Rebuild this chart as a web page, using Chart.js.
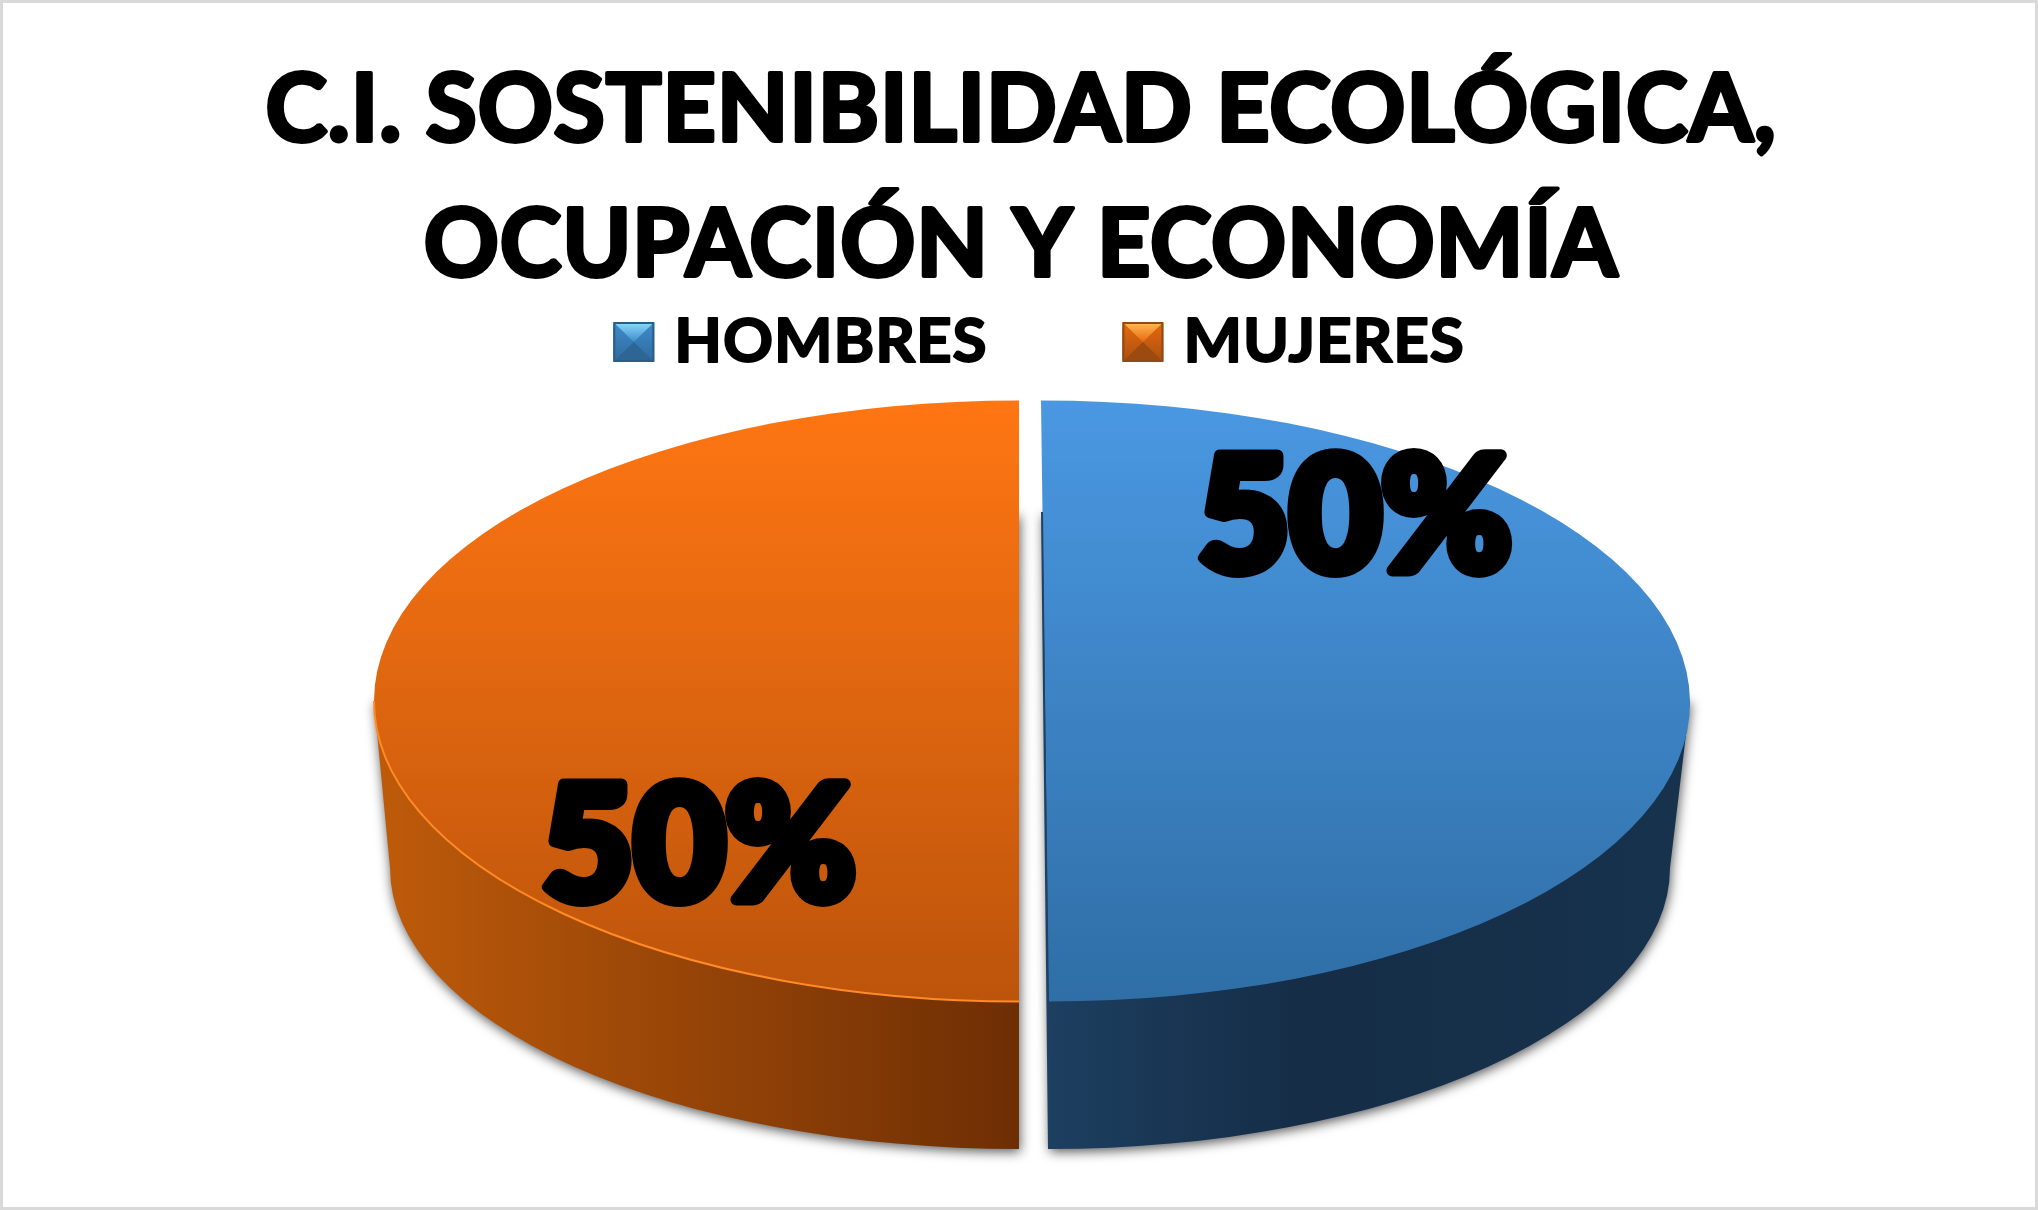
<!DOCTYPE html>
<html>
<head>
<meta charset="utf-8">
<title>C.I. Sostenibilidad Ecológica</title>
<script src="https://cdn.jsdelivr.net/npm/chart.js@4"></script>
<style>
  html, body { margin: 0; padding: 0; background: #fff; }
  canvas { display: block; }
</style>
</head>
<body>
<canvas id="chart" width="2038" height="1210"></canvas>
<script>
const titleLines = ["C.I. SOSTENIBILIDAD ECOLÓGICA,", "OCUPACIÓN Y ECONOMÍA"];
const categories = ["HOMBRES", "MUJERES"];
const values = [50, 50];

const PIE_X = 1030;
const PIE_Y = 701;
const PIE_R = 645;
const SQUASH = 300.5 / 645;
const BLUE_SKEW = 0.0133;
const SLICE_SHIFT = [15, -11];
const TITLE_SIZE = 93;
const TITLE_LINE = 1.45;
const TITLE_TOP = 44;
const LEGEND_FONT_SIZE = 62;
const LEGEND_PADDING = 135;
const LEGEND_MID = 342;

function faceColor(context) {
  const chart = context.chart;
  const stops = context.dataIndex === 0 ? ["#4a98e2", "#2f6ea6"] : ["#ff7613", "#bc540b"];
  if (!chart.chartArea) return stops[0];
  const cy = (chart.chartArea.top + chart.chartArea.bottom) / 2;
  const g = chart.ctx.createLinearGradient(0, cy - PIE_R, 0, cy + PIE_R);
  g.addColorStop(0, stops[0]);
  g.addColorStop(1, stops[1]);
  return g;
}

function drawWall(ctx, edgeTopX, edgeX, bottomRx, sideX, dir, stops) {
  const g = ctx.createLinearGradient(edgeX, 0, edgeX + dir * bottomRx, 0);
  stops.forEach(s => g.addColorStop(s[0], s[1]));
  ctx.save();
  ctx.shadowColor = "rgba(0,0,0,0.65)";
  ctx.shadowBlur = 12;
  ctx.shadowOffsetX = 1;
  ctx.shadowOffsetY = 3;
  ctx.fillStyle = g;
  ctx.beginPath();
  ctx.moveTo(edgeTopX, 512);
  ctx.lineTo(edgeX, 1149);
  if (dir > 0) {
    ctx.ellipse(edgeX, 868, bottomRx, 281, 0, Math.PI / 2, 0, true);
  } else {
    ctx.ellipse(edgeX, 868, bottomRx, 281, 0, Math.PI / 2, Math.PI, false);
  }
  ctx.lineTo(sideX, PIE_Y);
  ctx.closePath();
  ctx.fill();
  ctx.restore();
}

function drawBevelBox(ctx, x, y, w, h, c) {
  const g = ctx.createLinearGradient(0, y, 0, y + h);
  g.addColorStop(0, c[0]);
  g.addColorStop(1, c[1]);
  ctx.fillStyle = g;
  ctx.fillRect(x, y, w, h);
  const top = ctx.createLinearGradient(0, y, 0, y + h / 2);
  top.addColorStop(0, c[2]);
  top.addColorStop(1, c[0]);
  ctx.fillStyle = top;
  ctx.beginPath();
  ctx.moveTo(x + 2, y + 2);
  ctx.lineTo(x + w - 2, y + 2);
  ctx.lineTo(x + w / 2, y + h / 2);
  ctx.closePath();
  ctx.fill();
  ctx.fillStyle = c[3];
  ctx.beginPath();
  ctx.moveTo(x + 2, y + h - 2);
  ctx.lineTo(x + w - 2, y + h - 2);
  ctx.lineTo(x + w / 2, y + h / 2);
  ctx.closePath();
  ctx.fill();
  ctx.strokeStyle = c[4];
  ctx.lineWidth = 2;
  ctx.strokeRect(x + 1, y + 1, w - 2, h - 2);
}

const pie3d = {
  id: "pie3d",
  beforeLayout(chart) {
    // Calibri-like spacing; set before layout so the legend measures it too
    chart.ctx.letterSpacing = "0.9px";
  },
  afterLayout(chart) {
    // padding also counts vertically, so the legend is placed by hand
    const legend = chart.legend;
    legend.left += 18;
    legend.right += 18;
    legend.top = LEGEND_MID - LEGEND_FONT_SIZE / 2 - LEGEND_PADDING;
    legend.bottom = legend.top + legend.height;
    legend.adjustHitBoxes();
  },
  beforeDraw(chart) {
    const ctx = chart.ctx;
    ctx.save();
    ctx.fillStyle = "#ffffff";
    ctx.fillRect(0, 0, chart.width, chart.height);
    ctx.strokeStyle = "#d9d9d9";
    ctx.lineWidth = 3;
    ctx.strokeRect(1.5, 1.5, chart.width - 3, chart.height - 3);
    ctx.restore();
  },
  beforeDatasetsDraw(chart) {
    const ctx = chart.ctx;
    const arcs = chart.getDatasetMeta(0).data;

    drawWall(ctx, 1042, 1049, 621, 1690, 1, [[0, "#1d3f60"], [0.4, "#152d47"], [1, "#17324d"]]);
    drawWall(ctx, 1019, 1019, 629, 374, -1, [[0, "#6e2e04"], [0.65, "#a04a08"], [1, "#bd5a0a"]]);

    arcs.forEach((arc, i) => {
      ctx.save();
      ctx.translate(PIE_X + SLICE_SHIFT[i], PIE_Y);
      ctx.transform(1, 0, i === 0 ? BLUE_SKEW * SQUASH : 0, SQUASH, 0, 0);
      ctx.translate(-arc.x, -arc.y);
      arc.draw(ctx);
      ctx.restore();
    });

    // light rim on the orange face, dark inner edge on the blue one
    ctx.save();
    ctx.strokeStyle = "#ff8a26";
    ctx.lineWidth = 2;
    ctx.beginPath();
    ctx.ellipse(1019, PIE_Y, PIE_R, 300.5, 0, Math.PI, Math.PI / 2, true);
    ctx.stroke();
    ctx.strokeStyle = "#1e4265";
    ctx.lineWidth = 2;
    ctx.beginPath();
    ctx.moveTo(1042, 512);
    ctx.lineTo(1049, 1149);
    ctx.stroke();
    ctx.restore();

    // percentage labels
    const total = values.reduce((a, b) => a + b, 0);
    const labelPos = [[1355, 520], [699, 849]];
    ctx.save();
    ctx.letterSpacing = "0px";
    ctx.font = "900 158px Lato";
    ctx.textAlign = "center";
    ctx.textBaseline = "middle";
    ctx.fillStyle = "#000";
    ctx.strokeStyle = "#000";
    ctx.lineWidth = 12;
    ctx.lineJoin = "round";
    values.forEach((v, i) => {
      const text = Math.round(v / total * 100) + "%";
      ctx.strokeText(text, labelPos[i][0], labelPos[i][1]);
      ctx.fillText(text, labelPos[i][0], labelPos[i][1]);
    });
    ctx.restore();
    return false;
  },
  afterDraw(chart) {
    const ctx = chart.ctx;
    const t = chart.titleBlock;
    const lineH = TITLE_SIZE * TITLE_LINE;
    ctx.save();
    ctx.font = "bold " + TITLE_SIZE + "px Lato";
    ctx.textAlign = "center";
    ctx.textBaseline = "middle";
    ctx.strokeStyle = "#000";
    ctx.lineWidth = 4;
    ctx.lineJoin = "round";
    titleLines.forEach((line, i) => {
      ctx.strokeText(line, (t.left + t.right) / 2, t.top + TITLE_TOP + lineH / 2 + i * lineH);
    });

    const legend = chart.legend;
    const colors = [
      ["#3f8ccb", "#2f6a9f", "#8bdcff", "#2d6594", "#2a5d88"],
      ["#e8690f", "#a8500f", "#ffbe55", "#9c4a10", "#8f4a18"]
    ];
    ctx.font = "bold " + LEGEND_FONT_SIZE + "px Lato";
    ctx.textAlign = "left";
    legend.legendHitBoxes.forEach((hb, i) => {
      drawBevelBox(ctx, hb.left, LEGEND_MID - 20, 41, 40, colors[i]);
      ctx.strokeStyle = "#000";
      ctx.lineWidth = 2;
      ctx.strokeText(categories[i], hb.left + 30 + LEGEND_FONT_SIZE / 2, LEGEND_MID);
    });
    ctx.restore();
  }
};

new Chart(document.getElementById("chart"), {
  type: "pie",
  data: {
    labels: categories,
    datasets: [
      {
        data: values,
        borderWidth: 0,
        backgroundColor: faceColor
      }
    ]
  },
  options: {
    responsive: false,
    animation: false,
    radius: PIE_R,
    layout: { padding: { left: 4 } },
    plugins: {
      title: {
        display: true,
        text: titleLines,
        color: "#000",
        font: { family: "Lato", size: TITLE_SIZE, weight: "bold", lineHeight: TITLE_LINE },
        padding: { top: TITLE_TOP, bottom: 0 }
      },
      legend: {
        display: true,
        position: "top",
        labels: {
          boxWidth: 30,
          boxHeight: 30,
          color: "#000",
          padding: LEGEND_PADDING,
          font: { family: "Lato", size: LEGEND_FONT_SIZE, weight: "bold" }
        }
      },
      tooltip: { enabled: false }
    }
  },
  plugins: [pie3d]
});
</script>
</body>
</html>
